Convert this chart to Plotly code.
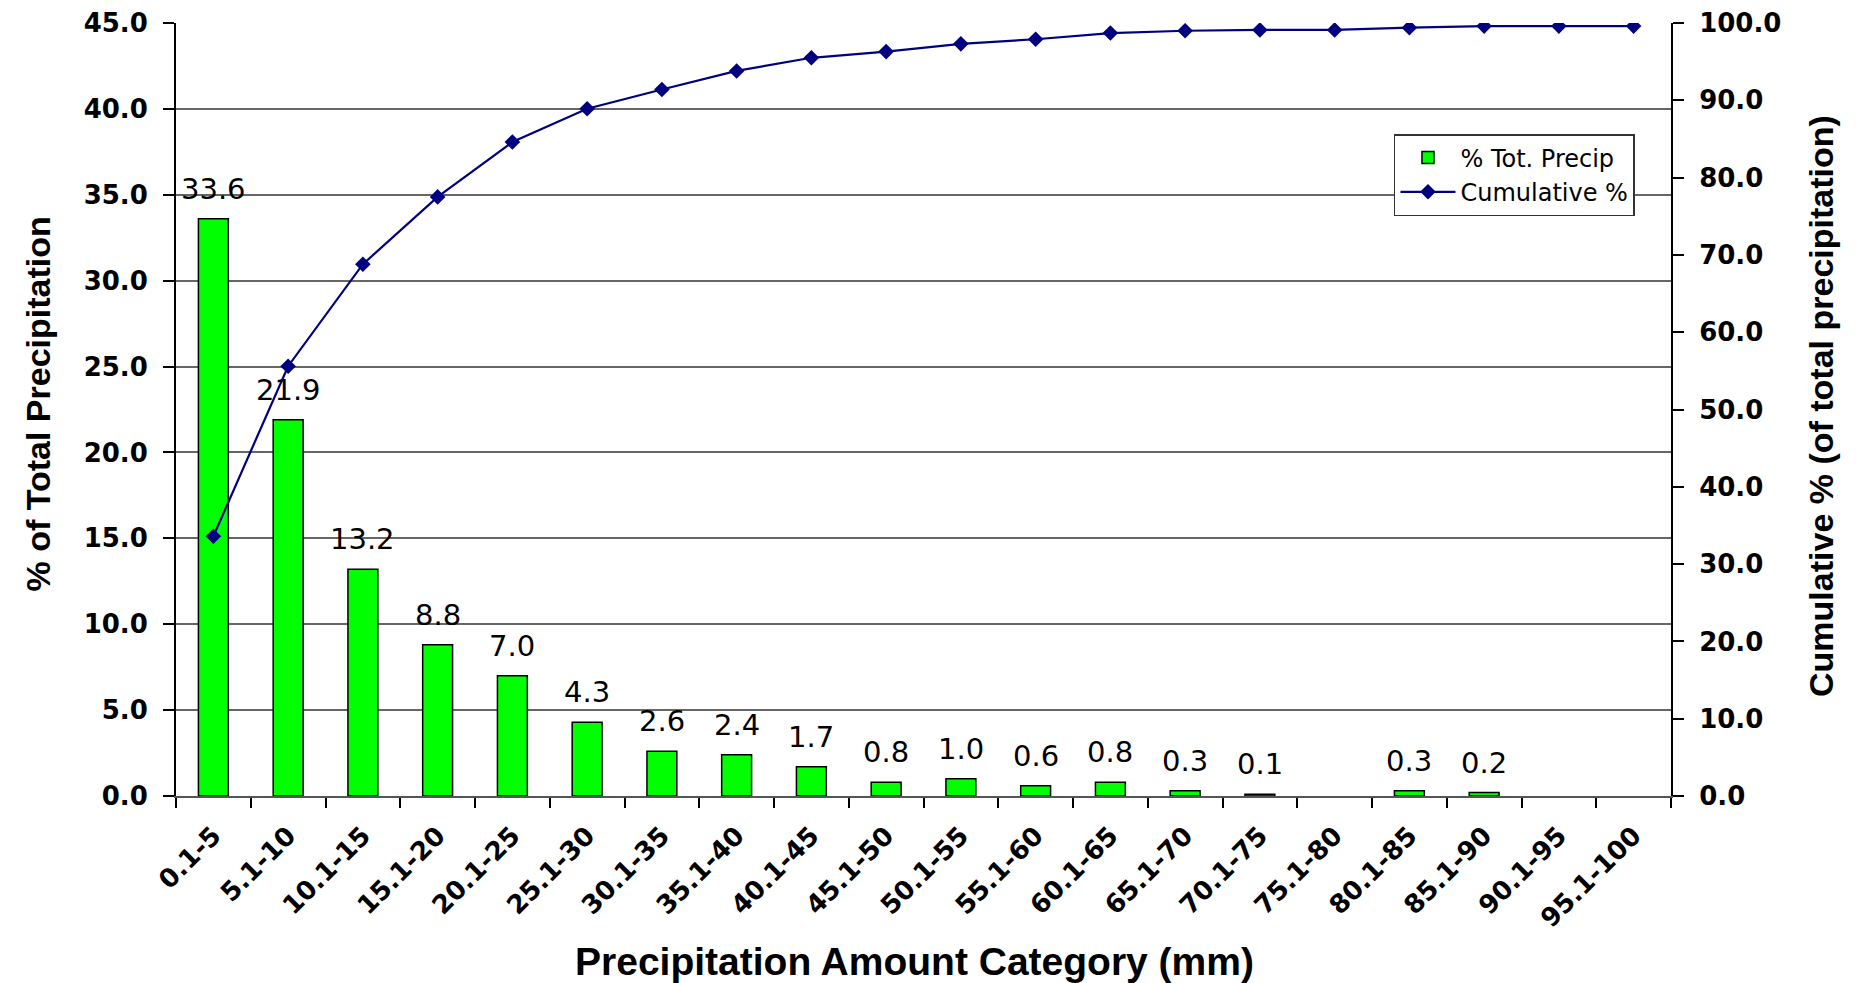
import plotly.graph_objects as go

categories = ["0.1-5", "5.1-10", "10.1-15", "15.1-20", "20.1-25", "25.1-30", "30.1-35",
              "35.1-40", "40.1-45", "45.1-50", "50.1-55", "55.1-60", "60.1-65", "65.1-70",
              "70.1-75", "75.1-80", "80.1-85", "85.1-90", "90.1-95", "95.1-100"]
pct_total = [33.6, 21.9, 13.2, 8.8, 7.0, 4.3, 2.6, 2.4, 1.7, 0.8, 1.0, 0.6, 0.8, 0.3,
             0.1, 0.0, 0.3, 0.2, 0.0, 0.0]
cumulative = [33.6, 55.6, 68.8, 77.5, 84.6, 88.9, 91.4, 93.8, 95.5, 96.3, 97.3, 97.9,
              98.7, 99.0, 99.1, 99.1, 99.4, 99.6, 99.6, 99.6]
left_ticks = [0, 5, 10, 15, 20, 25, 30, 35, 40, 45]
right_ticks = [0, 10, 20, 30, 40, 50, 60, 70, 80, 90, 100]

tick_font = dict(family="DejaVu Sans", size=26, color="black", weight="bold")
title_font = dict(family="Liberation Sans", size=34, color="black", weight="bold")

fig = go.Figure()
fig.add_trace(go.Bar(
    x=categories, y=pct_total, name="% Tot. Precip",
    marker=dict(color="#00FF00",
                line=dict(color="black", width=[1.5 if v > 0 else 0 for v in pct_total])),
    width=0.4, yaxis="y",
))
fig.add_trace(go.Scatter(
    x=categories, y=cumulative, name="Cumulative %", mode="lines+markers",
    line=dict(color="#000080", width=2.2),
    marker=dict(symbol="diamond", size=12, color="#000080"),
    yaxis="y2",
))

for c, v in zip(categories, pct_total):
    if v > 0:
        fig.add_annotation(x=c, y=v, xref="x", yref="y", text=f"{v:.1f}",
                           showarrow=False, yanchor="bottom", yshift=11,
                           font=dict(family="DejaVu Sans", size=29, color="black"))

fig.add_annotation(xref="paper", yref="paper", x=0.494, y=-0.2135,
                   xanchor="center", yanchor="middle",
                   text="Precipitation Amount Category (mm)", showarrow=False,
                   font=dict(family="Liberation Sans", size=39, color="black", weight="bold"))
fig.add_annotation(xref="paper", yref="paper", x=-0.0923, y=0.5065,
                   xanchor="center", yanchor="middle",
                   text="% of Total Precipitation", showarrow=False, textangle=-90,
                   font=title_font)
fig.add_annotation(xref="paper", yref="paper", x=1.1003, y=0.5045,
                   xanchor="center", yanchor="middle",
                   text="Cumulative % (of total precipitation)", showarrow=False,
                   textangle=-90, font=title_font)

fig.update_layout(
    width=1857, height=983,
    margin=dict(l=176, r=186, t=23, b=187, autoexpand=False),
    paper_bgcolor="white", plot_bgcolor="white",
    showlegend=True,
    legend=dict(x=0.8147, y=0.8564, xanchor="left", yanchor="top",
                bgcolor="white", bordercolor="#333333", borderwidth=1.5,
                font=dict(family="DejaVu Sans", size=24, color="black"),
                itemwidth=55, tracegroupgap=0),
    xaxis=dict(
        type="category", categoryorder="array", categoryarray=categories,
        tickangle=-45, tickfont=tick_font,
        ticks="outside", ticklen=10, tickwidth=1.5, tickcolor="black",
        tickson="boundaries", ticklabelstandoff=12,
        showline=True, linecolor="#555555", linewidth=2,
        showgrid=False, zeroline=False,
        range=[-0.5, len(categories) - 0.5],
    ),
    yaxis=dict(
        range=[0, 45], tickvals=left_ticks, tickformat=".1f",
        tickfont=tick_font, ticks="outside", ticklen=11, tickwidth=1.5,
        tickcolor="black", ticklabelstandoff=10,
        showline=True, linecolor="black", linewidth=2,
        showgrid=True, gridcolor="#666666", gridwidth=1.5,
        zeroline=False,
    ),
    yaxis2=dict(
        range=[0, 100], tickvals=right_ticks, tickformat=".1f",
        overlaying="y", side="right", anchor="x",
        tickfont=tick_font, ticks="outside", ticklen=11, tickwidth=1.5,
        tickcolor="black", ticklabelstandoff=10,
        showline=True, linecolor="black", linewidth=2,
        showgrid=False, zeroline=False,
    ),
)

fig.write_html("out.html")
